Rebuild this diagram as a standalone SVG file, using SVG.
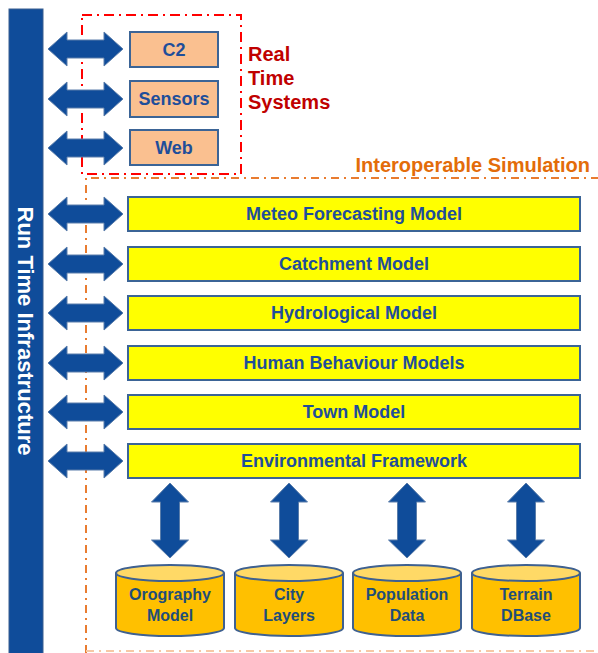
<svg xmlns="http://www.w3.org/2000/svg" width="598" height="653" viewBox="0 0 598 653">
<style>
.arr{fill:#0F4C9A;stroke:#5A7DAA;stroke-width:1}
.rt{fill:#FAC090;stroke:#3B6496;stroke-width:2}
.ym{fill:#FFFF00;stroke:#3B6496;stroke-width:2}
.bt{font-family:"Liberation Sans",Arial,sans-serif;font-weight:bold;font-size:18px;fill:#1F4E9A;text-anchor:middle}
.ct{font-family:"Liberation Sans",Arial,sans-serif;font-weight:bold;font-size:16px;fill:#1F4E79;text-anchor:middle}
.cyl{fill:#FFC000;stroke:#3F6190;stroke-width:2}
.cyt{fill:#FFD966;stroke:#3F6190;stroke-width:2}
</style>
<defs>
<path id="ha" d="M48,0 L67,-17 L67,-9 L104,-9 L104,-17 L123,0 L104,17 L104,9 L67,9 L67,17 Z"/>
<path id="va" d="M0,483 L18.5,502 L9.5,502 L9.5,540 L18.5,540 L0,558 L-18.5,540 L-9.5,540 L-9.5,502 L-18.5,502 Z"/>
</defs>
<rect width="598" height="653" fill="#FFFFFF"/>
<g id="rti">
<rect x="9" y="9" width="34" height="650" fill="#0F4C9A" stroke="#3A5F8F" stroke-width="1"/>
<text transform="translate(18,331) rotate(90)" font-family="Liberation Sans,Arial,sans-serif" font-weight="bold" font-size="22" fill="#FFFFFF" text-anchor="middle">Run Time Infrastructure</text>
</g>
<g id="realtime-group">
<rect x="82" y="15" width="159" height="159" fill="none" stroke="#FF0000" stroke-width="2" stroke-dasharray="10,5,2,5"/>
<text font-family="Liberation Sans,Arial,sans-serif" font-weight="bold" font-size="20" fill="#C00000"><tspan x="248" y="61">Real</tspan><tspan x="248" y="85">Time</tspan><tspan x="248" y="109">Systems</tspan></text>
</g>
<g id="interop-group">
<path d="M86,653 L86,178 L598,178" fill="none" stroke="#E97C30" stroke-width="2" stroke-dasharray="8,5,2,5"/>
<path d="M86,651 L598,651" fill="none" stroke="#F6C8A6" stroke-width="2" stroke-dasharray="8,5,2,5"/>
<text x="590" y="172" font-family="Liberation Sans,Arial,sans-serif" font-weight="bold" font-size="20" fill="#E36C09" text-anchor="end">Interoperable Simulation</text>
</g>
<g id="connectors">
<use href="#ha" class="arr" transform="translate(0,49)"/>
<use href="#ha" class="arr" transform="translate(0,99)"/>
<use href="#ha" class="arr" transform="translate(0,148)"/>
<use href="#ha" class="arr" transform="translate(0,214)"/>
<use href="#ha" class="arr" transform="translate(0,264)"/>
<use href="#ha" class="arr" transform="translate(0,313)"/>
<use href="#ha" class="arr" transform="translate(0,363)"/>
<use href="#ha" class="arr" transform="translate(0,412)"/>
<use href="#ha" class="arr" transform="translate(0,461)"/>
<use href="#va" class="arr" transform="translate(170,0)"/>
<use href="#va" class="arr" transform="translate(289,0)"/>
<use href="#va" class="arr" transform="translate(407,0)"/>
<use href="#va" class="arr" transform="translate(526,0)"/>
</g>
<g id="c2"><rect class="rt" x="130" y="32" width="88" height="35"/><text class="bt" x="174" y="56">C2</text></g>
<g id="sensors"><rect class="rt" x="130" y="81" width="88" height="36"/><text class="bt" x="174" y="105">Sensors</text></g>
<g id="web"><rect class="rt" x="130" y="130" width="88" height="35"/><text class="bt" x="174" y="154">Web</text></g>
<g id="meteo"><rect class="ym" x="128" y="197" width="452" height="34"/><text class="bt" x="354" y="220">Meteo Forecasting Model</text></g>
<g id="catchment"><rect class="ym" x="128" y="247" width="452" height="34"/><text class="bt" x="354" y="270">Catchment Model</text></g>
<g id="hydrological"><rect class="ym" x="128" y="296" width="452" height="34"/><text class="bt" x="354" y="319">Hydrological Model</text></g>
<g id="human"><rect class="ym" x="128" y="346" width="452" height="34"/><text class="bt" x="354" y="369">Human Behaviour Models</text></g>
<g id="town"><rect class="ym" x="128" y="395" width="452" height="34"/><text class="bt" x="354" y="418">Town Model</text></g>
<g id="environmental"><rect class="ym" x="128" y="444" width="452" height="34"/><text class="bt" x="354" y="467">Environmental Framework</text></g>
<g id="orography">
<path class="cyl" d="M116,573 L116,628 A54,8 0 0 0 224,628 L224,573"/>
<ellipse class="cyt" cx="170" cy="573" rx="54" ry="8"/>
<text class="ct" x="170" y="600">Orography</text><text class="ct" x="170" y="621">Model</text>
</g>
<g id="city">
<path class="cyl" d="M235,573 L235,628 A54,8 0 0 0 343,628 L343,573"/>
<ellipse class="cyt" cx="289" cy="573" rx="54" ry="8"/>
<text class="ct" x="289" y="600">City</text><text class="ct" x="289" y="621">Layers</text>
</g>
<g id="population">
<path class="cyl" d="M353,573 L353,628 A54,8 0 0 0 461,628 L461,573"/>
<ellipse class="cyt" cx="407" cy="573" rx="54" ry="8"/>
<text class="ct" x="407" y="600">Population</text><text class="ct" x="407" y="621">Data</text>
</g>
<g id="terrain">
<path class="cyl" d="M472,573 L472,628 A54,8 0 0 0 580,628 L580,573"/>
<ellipse class="cyt" cx="526" cy="573" rx="54" ry="8"/>
<text class="ct" x="526" y="600">Terrain</text><text class="ct" x="526" y="621">DBase</text>
</g>
</svg>
